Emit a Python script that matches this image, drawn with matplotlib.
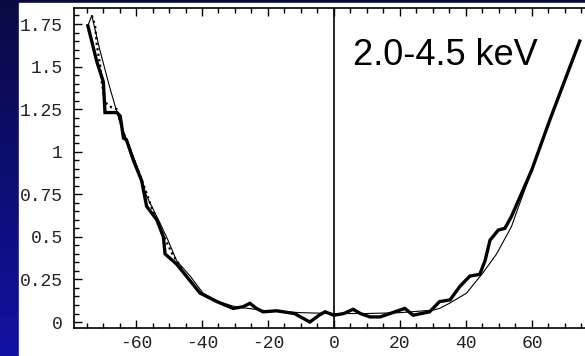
import numpy as np
import matplotlib.pyplot as plt
from matplotlib.patches import Rectangle
from matplotlib.ticker import MultipleLocator

# binned profile (thick line)
data_x = [-74.6, -71.9, -69.9, -69.4, -65.8, -64.8, -63.8, -62.9, -60.8, -58.3,
          -57.8, -56.8, -53.7, -51.7, -51.2, -47.7, -45.6, -40.6, -35.5, -30.6,
          -27.5, -25.5, -23.5, -21.5, -17.4, -12.0, -7.3, -4.5, -2.7, 0.0,
          3.0, 5.8, 8.0, 10.9, 14.0, 17.0, 21.5, 24.0, 29.0, 32.0,
          35.2, 38.2, 41.2, 44.2, 45.8, 47.3, 49.8, 51.8, 53.8, 59.9,
          65.5, 70.0, 74.5]
data_y = [1.74, 1.53, 1.41, 1.23, 1.23, 1.21, 1.08, 1.07, 0.95, 0.83,
          0.78, 0.68, 0.60, 0.50, 0.40, 0.34, 0.29, 0.17, 0.12, 0.08,
          0.09, 0.11, 0.08, 0.06, 0.066, 0.05, 0.0, 0.04, 0.06, 0.04,
          0.05, 0.075, 0.05, 0.03, 0.03, 0.05, 0.08, 0.04, 0.06, 0.12,
          0.13, 0.21, 0.27, 0.28, 0.36, 0.48, 0.54, 0.55, 0.62, 0.89,
          1.19, 1.42, 1.65]

# second profile (dotted)
dot_x = [-73.4, -72.4, -71.9, -70.9, -70.4, -69.4, -67.4, -65.8, -64.0, -61.0,
         -58.0, -55.0, -52.0, -49.0, -46.0]
dot_y = [1.80, 1.74, 1.63, 1.51, 1.41, 1.29, 1.26, 1.25, 1.12, 0.97,
         0.82, 0.66, 0.52, 0.40, 0.31]

# model curve (thin line)
model_x = [-74.6, -73.4, -71.0, -68.0, -65.0, -60.0, -56.8, -52.7, -50.3, -47.7,
           -43.6, -39.7, -35.0, -30.0, -20.0, -10.0, 0.0, 10.0, 20.0, 30.0,
           32.0, 35.0, 40.2, 45.2, 49.3, 53.8, 56.0, 60.0, 65.5, 70.0, 74.5]
model_y = [1.74, 1.80, 1.60, 1.38, 1.18, 0.93, 0.74, 0.58, 0.48, 0.36,
           0.27, 0.17, 0.12, 0.09, 0.065, 0.055, 0.05, 0.05, 0.055, 0.07,
           0.08, 0.11, 0.17, 0.29, 0.40, 0.56, 0.68, 0.89, 1.19, 1.42, 1.64]

xticks = [-60, -40, -20, 0, 20, 40, 60]
yticks = [0, 0.25, 0.5, 0.75, 1, 1.25, 1.5, 1.75]
ylabels = ['0', '0.25', '0.5', '0.75', '1', '1.25', '1.5', '1.75']

fig = plt.figure(figsize=(5.85, 3.56), dpi=100)

# slide background: blue gradient with a white panel
bg = fig.add_axes([0, 0, 1, 1], zorder=-10)
grad = np.linspace(0, 1, 256).reshape(-1, 1)
c_top = np.array([0.04, 0.04, 0.26])
c_bot = np.array([0.07, 0.07, 0.64])
img = c_top + grad[:, :, None] * (c_bot - c_top)
bg.imshow(img, aspect='auto', extent=[0, 1, 0, 1], origin='upper')
bg.add_patch(Rectangle((19 / 585, 0), 1, 1 - 3 / 356, color='white'))
bg.set_xlim(0, 1)
bg.set_ylim(0, 1)
bg.axis('off')

ax = fig.add_axes([74 / 585, 1 - 328 / 356, 1 - 74 / 585, 320 / 356])
ax.set_facecolor('none')

ax.plot(model_x, model_y, color='black', lw=0.8)
ax.plot(dot_x, dot_y, color='black', lw=1.6, ls=(0, (1, 1.5)))
ax.plot(data_x, data_y, color='black', lw=2.4, solid_joinstyle='miter')
ax.axvline(0, color='black', lw=1.2)

ax.set_xlim(-78.8, 76.1)
ax.set_ylim(-0.035, 1.844)

ax.set_xticks(xticks)
ax.set_xticklabels([str(v) for v in xticks])
ax.set_yticks(yticks)
ax.set_yticklabels(ylabels)
ax.xaxis.set_minor_locator(MultipleLocator(5))
ax.yaxis.set_minor_locator(MultipleLocator(0.05))
ax.tick_params(which='both', direction='in', top=True, right=False,
               color='black', width=1.0)
ax.tick_params(which='major', length=6)
ax.tick_params(which='minor', length=3.5)
ax.tick_params(axis='x', pad=5)
ax.tick_params(axis='y', pad=8)
for lab in ax.get_xticklabels() + ax.get_yticklabels():
    lab.set_family('Liberation Mono')
    lab.set_fontsize(13)
    lab.set_color('#222222')

for side in ['left', 'bottom', 'top']:
    ax.spines[side].set_linewidth(1.2)
ax.spines['right'].set_visible(False)

fig.text(353 / 585, 1 - 65 / 356, '2.0-4.5 keV', family='Liberation Sans',
         fontsize=26, color='black', va='baseline', ha='left')

fig.savefig('out.png', dpi=100)
